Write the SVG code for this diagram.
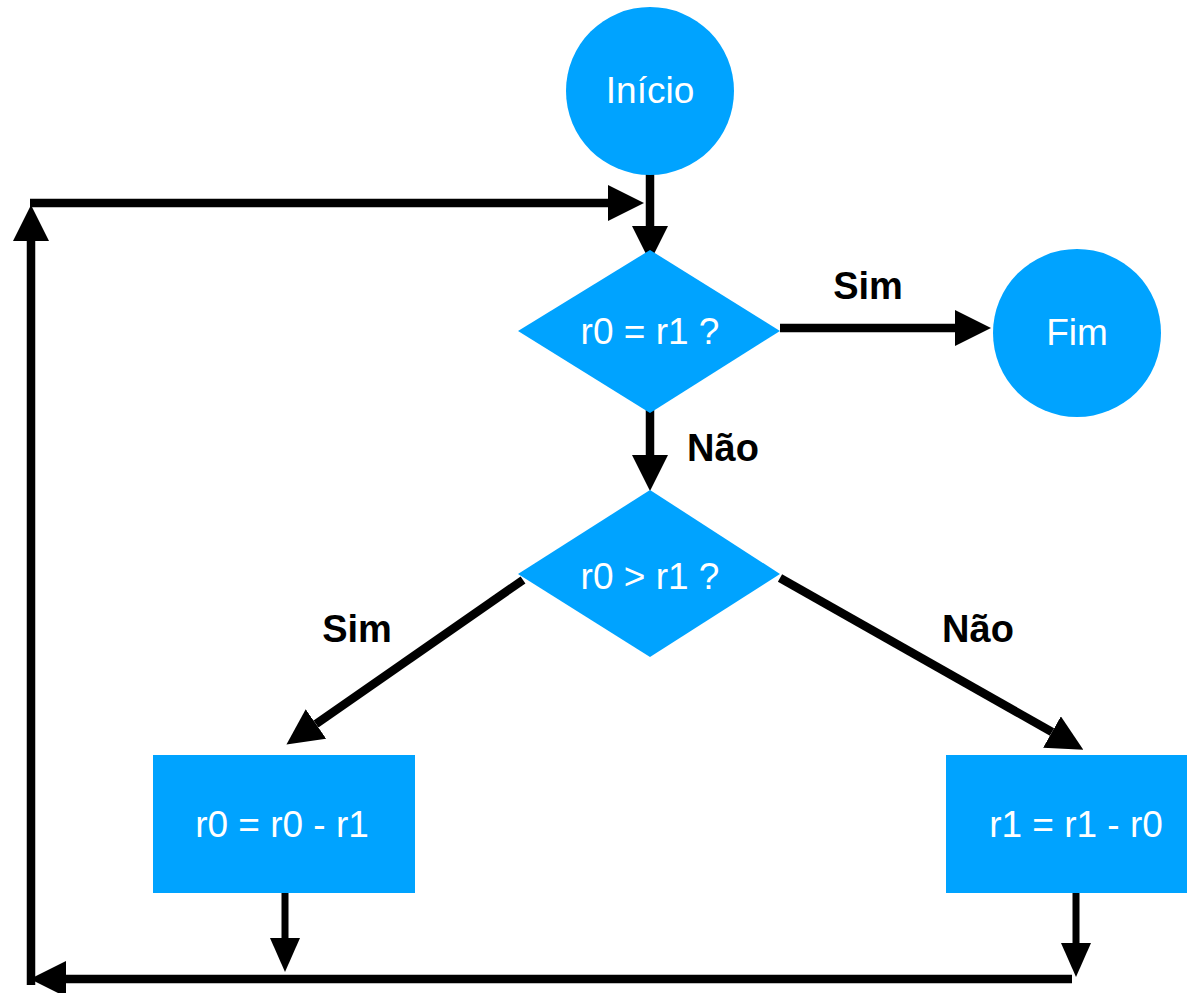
<svg xmlns="http://www.w3.org/2000/svg" width="1187" height="993" viewBox="0 0 1187 993">
  <style>
    .shape { fill: #00a3ff; }
    .node-text { font-family: "Liberation Sans", Arial, sans-serif; font-size: 37px; fill: #ffffff; text-anchor: middle; }
    .label { font-family: "Liberation Sans", Arial, sans-serif; font-size: 38px; font-weight: bold; fill: #000000; text-anchor: middle; }
    .edge { stroke: #000000; stroke-width: 8.5; fill: none; }
    .edge-thin { stroke: #000000; stroke-width: 7; fill: none; }
  </style>
  <defs>
    <marker id="head" markerUnits="userSpaceOnUse" markerWidth="36" markerHeight="36" refX="0" refY="18" orient="auto" viewBox="0 0 36 36">
      <path d="M0,0 L36,18 L0,36 z" fill="#000000"/>
    </marker>
    <marker id="head-narrow" markerUnits="userSpaceOnUse" markerWidth="34" markerHeight="30" refX="0" refY="15" orient="auto" viewBox="0 0 34 30">
      <path d="M0,0 L34,15 L0,30 z" fill="#000000"/>
    </marker>
  </defs>

  <rect width="1187" height="993" fill="#ffffff"/>

  <!-- connectors -->
  <g id="connectors">
    <line class="edge" x1="650" y1="170" x2="650" y2="226" marker-end="url(#head)"/>
    <line class="edge" x1="30" y1="203" x2="608" y2="203" marker-end="url(#head)"/>
    <line class="edge" x1="31" y1="985" x2="31" y2="241" marker-end="url(#head)"/>
    <line class="edge" x1="780" y1="328" x2="955" y2="328" marker-end="url(#head)"/>
    <line class="edge" x1="650" y1="403" x2="650" y2="455" marker-end="url(#head)"/>
    <line class="edge" x1="523" y1="580" x2="316" y2="724" marker-end="url(#head)"/>
    <line class="edge" x1="780" y1="578" x2="1052" y2="732" marker-end="url(#head)"/>
    <line class="edge-thin" x1="285" y1="883" x2="285" y2="938" marker-end="url(#head-narrow)"/>
    <line class="edge-thin" x1="1076" y1="888" x2="1076" y2="943" marker-end="url(#head-narrow)"/>
    <line class="edge" x1="1072" y1="979" x2="66" y2="979" marker-end="url(#head)"/>
  </g>

  <!-- edge labels -->
  <g id="labels">
    <text class="label" x="868" y="299">Sim</text>
    <text class="label" x="723" y="461">Não</text>
    <text class="label" x="357" y="642">Sim</text>
    <text class="label" x="978" y="642">Não</text>
  </g>

  <g id="inicio">
    <circle class="shape" cx="650" cy="91" r="84"/>
    <text class="node-text" x="650" y="103">Início</text>
  </g>

  <g id="cond-igual">
    <polygon class="shape" points="650,250 780,331 650,413 518,331"/>
    <text class="node-text" x="650" y="344">r0 = r1 ?</text>
  </g>

  <g id="fim">
    <circle class="shape" cx="1077" cy="333" r="84"/>
    <text class="node-text" x="1077" y="345">Fim</text>
  </g>

  <g id="cond-maior">
    <polygon class="shape" points="650,490 780,574 650,657 518,574"/>
    <text class="node-text" x="650" y="589">r0 &gt; r1 ?</text>
  </g>

  <g id="sub-r0">
    <rect class="shape" x="153" y="755" width="262" height="138"/>
    <text class="node-text" x="282" y="837">r0 = r0 - r1</text>
  </g>

  <g id="sub-r1">
    <rect class="shape" x="946" y="755" width="241" height="138"/>
    <text class="node-text" x="1076" y="837">r1 = r1 - r0</text>
  </g>
</svg>
